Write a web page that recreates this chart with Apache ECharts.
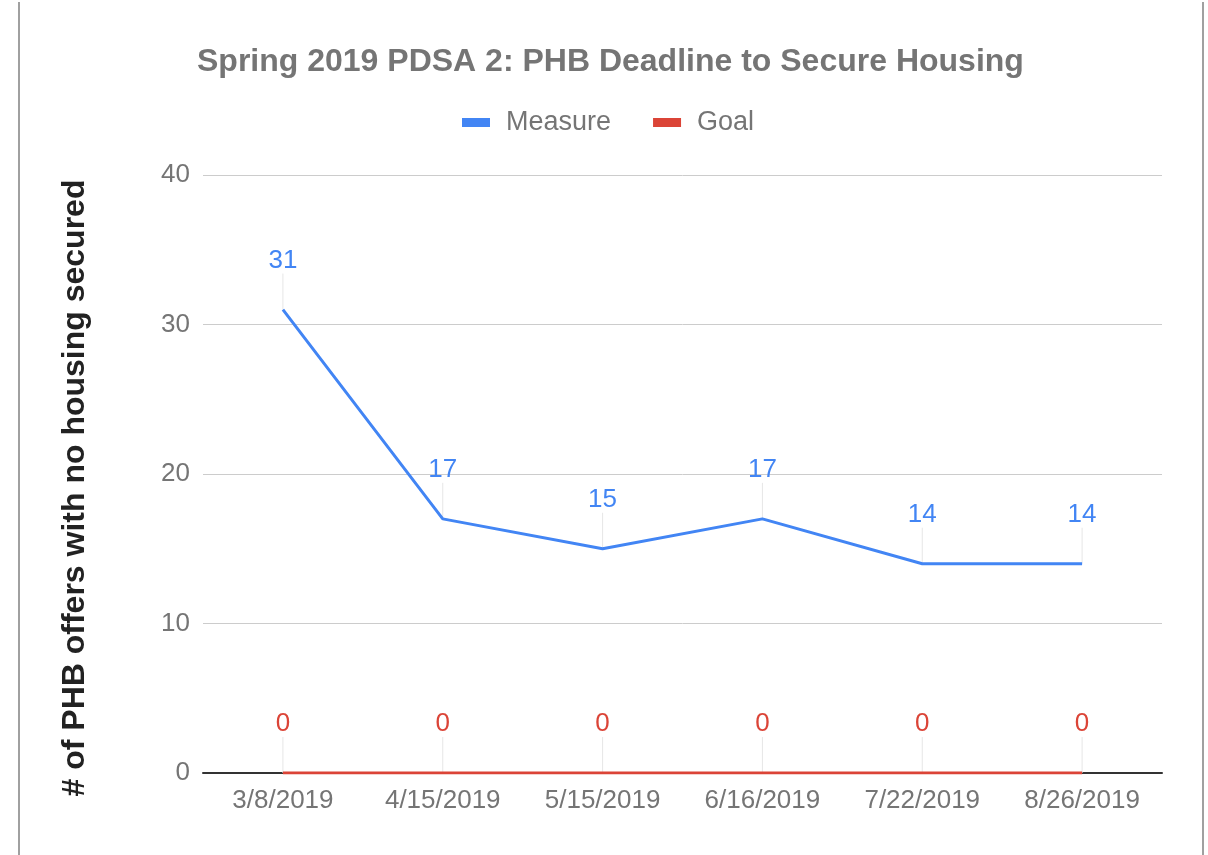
<!DOCTYPE html>
<html>
<head>
<meta charset="utf-8">
<script src="https://cdn.jsdelivr.net/npm/echarts@6/dist/echarts.min.js"></script>
<style>
  html, body { margin: 0; padding: 0; background: #fff; }
  #chart { width: 1208px; height: 855px; }
  .edge { position: absolute; top: 2px; bottom: 0; width: 2px; background: #a0a0a0; }
</style>
</head>
<body>
<div id="chart"></div>
<div class="edge" style="left:18px"></div>
<div class="edge" style="left:1202px"></div>
<script>
const categories = ['3/8/2019', '4/15/2019', '5/15/2019', '6/16/2019', '7/22/2019', '8/26/2019']
const measure = [31, 17, 15, 17, 14, 14]
const goal = [0, 0, 0, 0, 0, 0]
const yTicks = [0, 10, 20, 30, 40]

const BLUE = '#4285f4'
const RED = '#db4437'
const FONT = '"Liberation Sans", Arial, sans-serif'
const LABEL_GAP = 36

const chart = echarts.init(document.getElementById('chart'))

// thin annotation stem from the point up to its label
function stem(api) {
  const p = api.coord([api.value(0), api.value(1)])
  return {
    type: 'line',
    shape: { x1: p[0], y1: p[1], x2: p[0], y2: p[1] - LABEL_GAP },
    style: { stroke: '#e6e6e6', lineWidth: 1 },
  }
}

function lineSeries(name, data, color) {
  return {
    name: name,
    type: 'line',
    data: data,
    symbol: 'circle',
    symbolSize: 0,
    showSymbol: true,
    lineStyle: { color: color, width: 3 },
    itemStyle: { color: color },
    label: {
      show: true,
      position: 'top',
      distance: LABEL_GAP,
      color: color,
      fontFamily: FONT,
      fontSize: 26,
    },
    z: 3,
  }
}

const option = {
  animation: false,
  title: {
    text: 'Spring 2019 PDSA 2: PHB Deadline to Secure Housing',
    left: 192,
    top: 41,
    textStyle: { color: '#757575', fontFamily: FONT, fontWeight: 'bold', fontSize: 32 },
  },
  legend: {
    top: 104,
    left: 457,
    itemWidth: 28,
    itemHeight: 9,
    itemGap: 42,
    icon: 'rect',
    textStyle: { color: '#757575', fontFamily: FONT, fontSize: 27, padding: [0, 0, 0, 11] },
    data: ['Measure', 'Goal'],
  },
  grid: { left: 203, right: 46, top: 175, bottom: 82 },
  xAxis: {
    type: 'category',
    data: categories,
    axisLine: { lineStyle: { color: '#333', width: 2 } },
    axisTick: { show: false },
    axisLabel: { color: '#757575', fontFamily: FONT, fontSize: 26, margin: 15 },
  },
  yAxis: {
    type: 'value',
    min: yTicks[0],
    max: yTicks[yTicks.length - 1],
    interval: 10,
    name: '# of PHB offers with no housing secured',
    nameLocation: 'middle',
    nameGap: 112,
    nameTextStyle: {
      color: '#222', fontFamily: FONT, fontWeight: 'bold', fontSize: 32,
      padding: [0, 28, 0, 0],
    },
    axisLine: { show: false },
    axisTick: { show: false },
    axisLabel: { color: '#757575', fontFamily: FONT, fontSize: 26, margin: 13 },
    splitLine: { lineStyle: { color: '#cccccc', width: 1 } },
  },
  series: [
    lineSeries('Measure', measure, BLUE),
    lineSeries('Goal', goal, RED),
    {
      type: 'custom',
      data: measure.map((v, i) => [i, v]),
      renderItem: (params, api) => stem(api),
      silent: true,
      z: 1,
    },
    {
      type: 'custom',
      data: goal.map((v, i) => [i, v]),
      renderItem: (params, api) => stem(api),
      silent: true,
      z: 1,
    },
  ],
}

chart.setOption(option)
</script>
</body>
</html>
